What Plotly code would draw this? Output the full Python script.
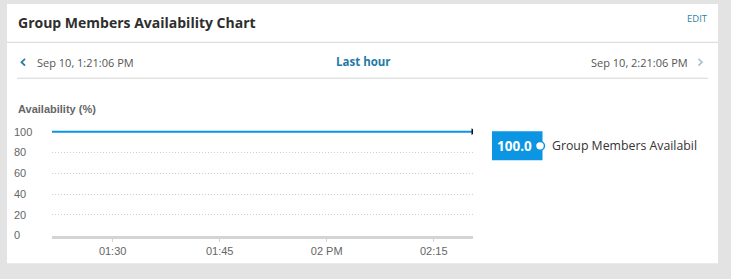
import plotly.graph_objects as go
import pandas as pd

W, H = 731, 279

# ---- data ----
series_name = "Group Members Availability"
times = list(pd.date_range("2024-09-10 13:21:30", "2024-09-10 14:20:30", freq="1min"))
availability = [100.0] * 60  # flat at 100 % for the whole hour
x_tickvals = ["2024-09-10 13:30", "2024-09-10 13:45", "2024-09-10 14:00", "2024-09-10 14:15"]
x_ticktext = ["01:30", "01:45", "02 PM", "02:15"]
y_tickvals = [0, 20, 40, 60, 80, 100]
range_start_label = "Sep 10, 1:21:06 PM"
range_end_label = "Sep 10, 2:21:06 PM"
range_name = "Last hour"
chart_title = "Group Members Availability Chart"


def px(x):
    return x / W


def py(y):
    return 1 - y / H


BLUE = "#0b95e3"
fig = go.Figure()

fig.add_trace(go.Scatter(
    x=times, y=availability, mode="lines", name=series_name,
    line=dict(color=BLUE, width=2), showlegend=False, hoverinfo="skip",
))
fig.add_trace(go.Scatter(
    x=[times[-1]], y=[availability[-1]], mode="markers",
    marker=dict(symbol="triangle-right", size=6, color="#111"),
    showlegend=False, hoverinfo="skip",
))

shapes = [
    # white card
    dict(type="rect", xref="paper", yref="paper", x0=px(7), x1=px(718), y0=py(269), y1=py(2),
         fillcolor="white", line=dict(width=0), layer="below"),
    # separators
    dict(type="line", xref="paper", yref="paper", x0=px(7), x1=px(718), y0=py(41.5), y1=py(41.5),
         line=dict(color="#d6d6d6", width=1), layer="below"),
    dict(type="line", xref="paper", yref="paper", x0=px(17), x1=px(708), y0=py(78.5), y1=py(78.5),
         line=dict(color="#d6d6d6", width=1), layer="below"),
    # chevrons
    dict(type="path", xref="paper", yref="paper",
         path=f"M {px(25)} {py(58.5)} L {px(21.5)} {py(62)} L {px(25)} {py(65.5)}",
         line=dict(color="#2b7c9e", width=1.8)),
    dict(type="path", xref="paper", yref="paper",
         path=f"M {px(698.5)} {py(58.5)} L {px(702)} {py(62)} L {px(698.5)} {py(65.5)}",
         line=dict(color="#a9c6d4", width=1.8)),
    # value box
    dict(type="rect", xref="paper", yref="paper", x0=px(492), x1=px(542.5), y0=py(163), y1=py(133),
         fillcolor=BLUE, line=dict(width=0)),
    dict(type="circle", xref="paper", yref="paper", x0=px(535.5), x1=px(544.5), y0=py(152.5), y1=py(143.5),
         fillcolor="white", line=dict(color=BLUE, width=1.5)),
]

ann = [
    dict(text=f"<b>{chart_title}</b>", x=px(15.5), y=py(21), xanchor="left", yanchor="middle",
         font=dict(family="Open Sans", size=14, color="#2e2e2e")),
    dict(text="EDIT", x=px(710), y=py(17), xanchor="right", yanchor="middle",
         font=dict(family="Open Sans", size=9.5, color="#2f7f9f")),
    dict(text=range_start_label, x=px(35), y=py(62), xanchor="left", yanchor="middle",
         font=dict(family="Open Sans", size=11, color="#555")),
    dict(text=f"<b>{range_name}</b>", x=px(363), y=py(61), xanchor="center", yanchor="middle",
         font=dict(family="Open Sans", size=11.5, color="#1f7aa6")),
    dict(text=range_end_label, x=px(690), y=py(62), xanchor="right", yanchor="middle",
         font=dict(family="Open Sans", size=11, color="#555")),
    dict(text="<b>Availability (%)</b>", x=px(15.5), y=py(110), xanchor="left", yanchor="middle",
         font=dict(family="Liberation Sans", size=11, color="#666")),
    dict(text=f"<b>{availability[-1]:.1f}</b>", x=px(514.5), y=py(148), xanchor="center", yanchor="middle",
         font=dict(family="Open Sans", size=13.5, color="white")),
    dict(text=series_name[:23], x=px(550), y=py(148), xanchor="left", yanchor="middle",
         font=dict(family="Open Sans", size=12.3, color="#333")),
]
for a in ann:
    a.update(xref="paper", yref="paper", showarrow=False)

y0_px, ytop_px = 240.5, 129.2
fig.update_layout(
    width=W, height=H, margin=dict(l=0, r=0, t=0, b=0),
    paper_bgcolor="#e3e3e3", plot_bgcolor="rgba(0,0,0,0)",
    shapes=shapes, annotations=ann, showlegend=False,
    xaxis=dict(
        domain=[px(52), px(473)],
        range=[times[0], times[-1]],
        tickvals=x_tickvals, ticktext=x_ticktext,
        showgrid=False, zeroline=False,
        showline=True, linecolor="#d4d4d4", linewidth=3,
        ticks="outside", ticklen=3, tickcolor="#d4d4d4", tickwidth=1,
        tickfont=dict(family="Liberation Sans", size=11, color="#666"),
    ),
    yaxis=dict(
        domain=[py(y0_px), py(ytop_px)],
        range=[0, 104],
        anchor="free", position=px(10),
        ticklabelposition="inside", ticklabeloverflow="allow",
        tickvals=y_tickvals,
        showgrid=True, gridcolor="#d0d0d0", griddash="1px,2px", gridwidth=1,
        zeroline=False, showline=False, ticks="",
        tickfont=dict(family="Liberation Sans", size=11, color="#666"),
    ),
)

fig.write_html("out.html")
